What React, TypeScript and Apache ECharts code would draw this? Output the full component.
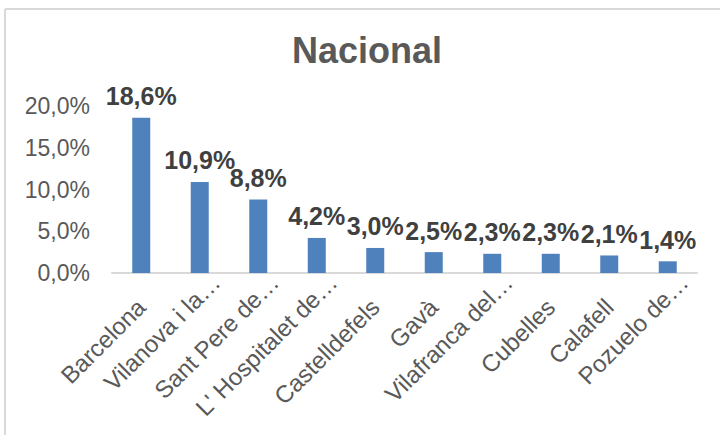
import React, { useEffect, useRef } from "react";
import * as echarts from "echarts";

const categories = [
  "Barcelona",
  "Vilanova i la…",
  "Sant Pere de…",
  "L' Hospitalet de…",
  "Castelldefels",
  "Gavà",
  "Vilafranca del…",
  "Cubelles",
  "Calafell",
  "Pozuelo de…",
];
const values = [18.6, 10.9, 8.8, 4.2, 3.0, 2.5, 2.3, 2.3, 2.1, 1.4];
const titleText = "Nacional";

const FONT = "'Liberation Sans', Arial, sans-serif";
const fmt = (v: number) => v.toFixed(1).replace(".", ",") + "%";

export default function App() {
  const ref = useRef<HTMLDivElement>(null);
  useEffect(() => {
    if (!ref.current) return;
    const chart = echarts.init(ref.current, null, { renderer: "svg" });
    const catData = categories.map((c) => {
      const trunc = c.endsWith("…");
      return {
        value: c,
        textStyle: {
          align: "right",
          verticalAlign: "top",
          padding: trunc ? [11, 0, 0, 0] : [17, 29, 0, 0],
        },
      };
    });
    chart.setOption({
      animation: false,
      backgroundColor: "#ffffff",
      title: {
        text: titleText,
        left: 287,
        top: 27,
        textStyle: {
          fontFamily: FONT,
          fontSize: 36,
          fontWeight: "bold",
          color: "#595959",
        },
      },
      graphic: [
        {
          type: "line",
          shape: { x1: 5, y1: 9, x2: 720, y2: 9 },
          style: { stroke: "#D9D9D9", lineWidth: 2 },
        },
        {
          type: "line",
          shape: { x1: 5, y1: 9, x2: 5, y2: 435 },
          style: { stroke: "#D9D9D9", lineWidth: 2 },
        },
      ],
      grid: {
        left: 112,
        right: 23,
        top: 106,
        bottom: 162,
        containLabel: false,
        outerBoundsMode: "none",
      },
      xAxis: {
        type: "category",
        data: catData,
        axisLine: { show: true, lineStyle: { color: "#D9D9D9", width: 2 } },
        axisTick: { show: false },
        axisLabel: {
          rotate: 45,
          interval: 0,
          margin: -11,
          fontFamily: FONT,
          fontSize: 24,
          color: "#595959",
        },
      },
      yAxis: {
        type: "value",
        min: 0,
        max: 20,
        interval: 5,
        splitLine: { show: false },
        axisLine: { show: false },
        axisTick: { show: false },
        axisLabel: {
          margin: 22,
          fontFamily: FONT,
          fontSize: 23,
          color: "#595959",
          formatter: (v: number) => fmt(v),
        },
      },
      series: [
        {
          type: "bar",
          data: values,
          barWidth: 18,
          itemStyle: { color: "#4F81BD" },
          label: {
            show: true,
            position: "top",
            distance: 9,
            fontFamily: FONT,
            fontSize: 25,
            fontWeight: "bold",
            color: "#404040",
            formatter: (p: any) => fmt(p.value),
          },
        },
      ],
    });
    return () => chart.dispose();
  }, []);
  return (
    <div
      ref={ref}
      style={{ position: "absolute", left: 0, top: 0, width: 720, height: 435 }}
    />
  );
}
